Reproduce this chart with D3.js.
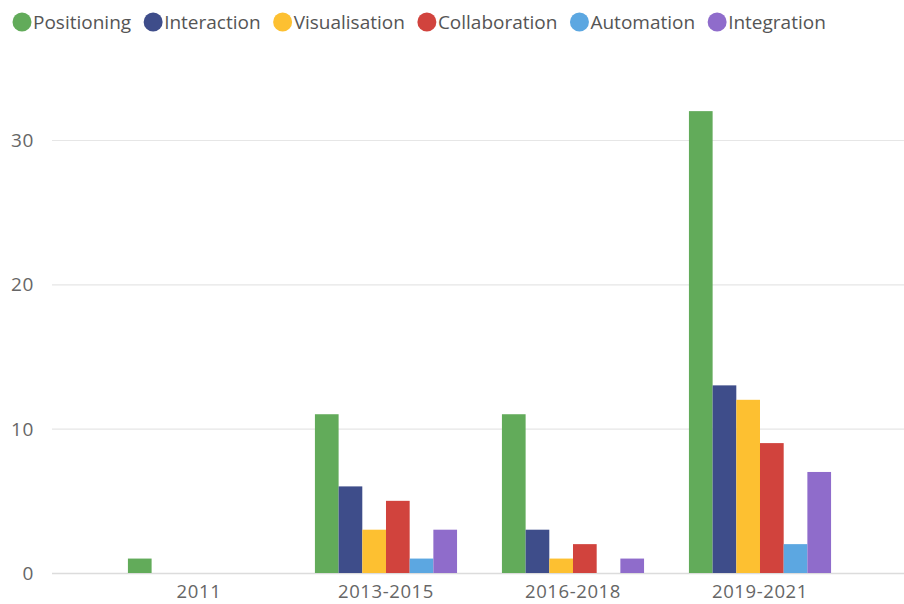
<!DOCTYPE html>
<html>
<head>
<meta charset="utf-8">
<script src="https://cdn.jsdelivr.net/npm/d3@7"></script>
<style>
  html, body { margin: 0; padding: 0; background: #fff; }
  svg { display: block; }
  text { font-family: "Open Sans", "Noto Sans", sans-serif; }
</style>
</head>
<body>
<svg id="chart" width="904" height="604"></svg>
<script>
const categories = ["2011", "2013-2015", "2016-2018", "2019-2021"];
const seriesNames = ["Positioning", "Interaction", "Visualisation", "Collaboration", "Automation", "Integration"];
const seriesColors = ["#62AB5A", "#3E4D8A", "#FDC031", "#D1433D", "#5CA7E1", "#8F6CCB"];
const positioning   = [1, 11, 11, 32];
const interaction   = [0, 6, 3, 13];
const visualisation = [0, 3, 1, 12];
const collaboration = [0, 5, 2, 9];
const automation    = [0, 1, 0, 2];
const integration   = [0, 3, 1, 7];
const yTicks = [0, 10, 20, 30];

const seriesValues = [positioning, interaction, visualisation, collaboration, automation, integration];

const svg = d3.select("#chart");
const W = 904;
const gridLeft = 52;

const y = d3.scaleLinear().domain([0, 30]).range([573, 140]);
const x0 = d3.scaleBand().domain(categories).range([gridLeft, W])
  .paddingInner(0.24).paddingOuter(0.398).align(0.51);
const x1 = d3.scaleBand().domain(seriesNames).range([0, x0.bandwidth()]).padding(0);

// gridlines
svg.append("g").selectAll("line").data(yTicks).join("line")
  .attr("x1", gridLeft).attr("x2", W)
  .attr("y1", d => y(d) + 0.5).attr("y2", d => y(d) + 0.5)
  .attr("stroke", d => d === 0 ? "#dcdcdc" : "#e6e6e6")
  .attr("stroke-width", d => d === 0 ? 1.5 : 1.2);

// y axis labels
svg.append("g").selectAll("text").data(yTicks).join("text")
  .attr("x", 34).attr("y", d => y(d))
  .attr("dy", "0.36em")
  .attr("text-anchor", "end")
  .attr("fill", "#666")
  .attr("font-size", 19)
  .attr("letter-spacing", 0.6)
  .text(d => d);

// bars
const groups = svg.append("g").selectAll("g").data(categories).join("g")
  .attr("transform", d => `translate(${x0(d)},0)`);
groups.selectAll("rect")
  .data((c, ci) => seriesNames.map((s, si) => ({ s, si, v: seriesValues[si][ci] })))
  .join("rect")
  .attr("x", d => x1(d.s))
  .attr("width", x1.bandwidth())
  .attr("y", d => y(d.v))
  .attr("height", d => y(0) - y(d.v))
  .attr("fill", d => seriesColors[d.si]);

// x axis labels
svg.append("g").selectAll("text").data(categories).join("text")
  .attr("x", d => x0(d) + x0.bandwidth() / 2)
  .attr("y", 598)
  .attr("text-anchor", "middle")
  .attr("fill", "#666")
  .attr("font-size", 18.5)
  .attr("letter-spacing", 0.6)
  .text(d => d);

// legend
const legend = svg.append("g");
let lx = 12;
seriesNames.forEach((name, i) => {
  const g = legend.append("g");
  g.append("circle").attr("cx", lx + 10).attr("cy", 22).attr("r", 9.5).attr("fill", seriesColors[i]);
  const t = g.append("text").attr("x", lx + 21).attr("y", 28.5)
    .attr("fill", "#555").attr("font-size", 19).text(name);
  const w = t.node().getComputedTextLength();
  lx = lx + 21 + w + 12;
});
</script>
</body>
</html>
